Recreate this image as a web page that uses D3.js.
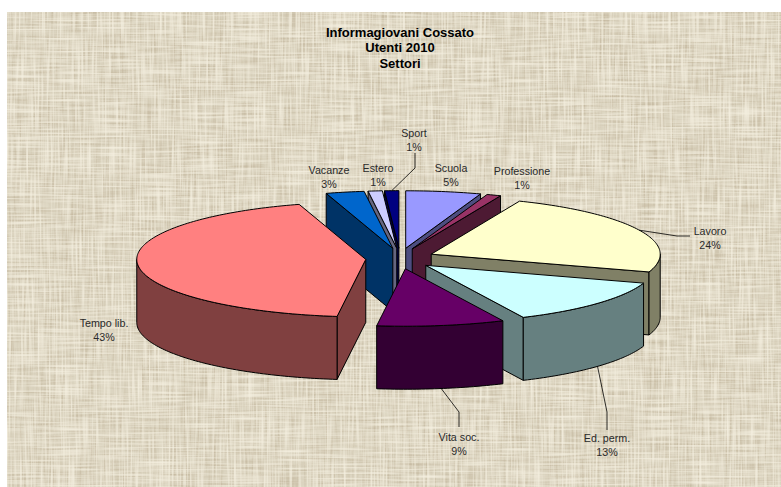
<!DOCTYPE html>
<html><head><meta charset="utf-8">
<script src="https://cdn.jsdelivr.net/npm/d3@7"></script>
<style>html,body{margin:0;padding:0;background:#fff;overflow:hidden}svg{display:block}</style>
</head><body><svg id="c" width="781" height="487"></svg>
<script>
const categories = ["Scuola","Professione","Lavoro","Ed. perm.","Vita soc.","Tempo lib.","Vacanze","Estero","Sport"];
const shares = [5.3,1.0,23.7,13,9,43.3,2.7,1,1];
const titleLines = ["Informagiovani Cossato","Utenti 2010","Settori"];
const topColors  = ["#9999FF","#993366","#FFFFCC","#CCFFFF","#660066","#FF8080","#0066CC","#CCCCFF","#000080"];
const sideColors = ["#4D4D80","#4D1A33","#808066","#668080","#330033","#804040","#003366","#666680","#000040"];

const W = 781, H = 487;
const cx = 400, cy = 258.5, R = 229, Ry = 57.5, depth = 63, explode = 0.15, explodeY = 1.2;
const x = d3.scaleLinear().domain([-1,1]).range([cx-R,cx+R]);
const y = d3.scaleLinear().domain([-1,1]).range([cy+Ry,cy-Ry]);

// where each label sits and how its leader bends (label anchor, elbow)
const labelLayout = {
  "Scuola":{x:451,y:172}, "Professione":{x:522,y:175},
  "Lavoro":{x:710,y:235,elbow:[[677,236],[690,236]]},
  "Ed. perm.":{x:607,y:442,elbow:[[607,412],[607,430]],wall:true},
  "Vita soc.":{x:459,y:441,elbow:[[459,412],[459,427]],wall:true},
  "Tempo lib.":{x:104,y:327}, "Vacanze":{x:329,y:174}, "Estero":{x:378,y:172},
  "Sport":{x:414,y:137,elbow:[[415,168],[415,153]]}
};

const svg = d3.select("#c");
const defs = svg.append("defs");
const f = defs.append("filter").attr("id","linen").attr("x",0).attr("y",0).attr("width","100%").attr("height","100%").attr("color-interpolation-filters","sRGB");
f.append("feFlood").attr("flood-color","#DCD5C1").attr("result","base");
function streaks(freq, seed, name, color, slope, icpt){
  f.append("feTurbulence").attr("type","fractalNoise").attr("baseFrequency",freq).attr("numOctaves",1).attr("seed",seed).attr("result",name+"n");
  f.append("feColorMatrix").attr("in",name+"n").attr("type","matrix")
    .attr("values",`0 0 0 0 ${color[0]} 0 0 0 0 ${color[1]} 0 0 0 0 ${color[2]} ${slope} 0 0 0 ${icpt}`).attr("result",name);
}
streaks("0.55 0.022",3,"v1",[0.96,0.94,0.88],2.2,-0.95);
streaks("0.022 0.55",8,"h1",[0.96,0.94,0.88],2.2,-0.95);
streaks("0.5 0.03",14,"v2",[0.76,0.71,0.61],1.8,-0.8);
streaks("0.03 0.5",21,"h2",[0.76,0.71,0.61],1.8,-0.8);
const m = f.append("feMerge");
["base","v2","h2","v1","h1"].forEach(n=>m.append("feMergeNode").attr("in",n));
f.append("feGaussianBlur").attr("stdDeviation",0.4);
svg.append("rect").attr("x",7).attr("y",12).attr("width",W-7).attr("height",H-12).attr("filter","url(#linen)");

const arcs = d3.pie().sort(null).value(d=>d.v).startAngle(0).endAngle(2*Math.PI)(categories.map((c,i)=>({c,v:shares[i],i})));
arcs.forEach(a=>{
  a.mid=(a.startAngle+a.endAngle)/2;
  a.ox=explode*Math.sin(a.mid);
  a.oy=explode*explodeY*Math.cos(a.mid);
});
const pt=(a,t,r,dz)=>[x(a.ox+r*Math.sin(t)), y(a.oy+r*Math.cos(t))+dz];
const line=d3.line();
const arcPts=(a,t0,t1,dz)=>{
  const n=Math.max(2,Math.ceil((t1-t0)/0.02));
  return d3.range(n+1).map(i=>pt(a,t0+(t1-t0)*i/n,1,dz));
};
const face=(g,pts,fill)=>g.append("path").attr("d",line(pts)+"Z").attr("fill",fill).attr("stroke","#000").attr("stroke-width",1).attr("stroke-linejoin","round");

const order=arcs.slice().sort((p,q)=>Math.cos(q.mid)-Math.cos(p.mid));
const plot=svg.append("g");
order.forEach(a=>{
  const g=plot.append("g"), side=sideColors[a.data.i], top=topColors[a.data.i];
  const wall=t=>face(g,[pt(a,0,0,0),pt(a,t,1,0),pt(a,t,1,depth),pt(a,0,0,depth)],side);
  if(Math.sin(a.startAngle)<0) wall(a.startAngle);
  if(Math.sin(a.endAngle)>0) wall(a.endAngle);
  const t0=Math.max(a.startAngle,Math.PI/2), t1=Math.min(a.endAngle,Math.PI*1.5);
  if(t1>t0) face(g,arcPts(a,t0,t1,0).concat(arcPts(a,t0,t1,depth).reverse()),side);
  face(g,[pt(a,0,0,0)].concat(arcPts(a,a.startAngle,a.endAngle,0)),top);
});

// leaders
arcs.forEach(a=>{
  const l=labelLayout[a.data.c];
  if(!l.elbow) return;
  const start=pt(a,a.mid,1,l.wall?depth:0);
  plot.append("path").attr("d",line([start].concat(l.elbow))).attr("fill","none").attr("stroke","#000").attr("stroke-width",0.8);
});

const font="'Liberation Sans',Arial,sans-serif";
const labels=svg.append("g").attr("font-family",font).attr("font-size",10.7).attr("fill","#2a2a2a").attr("text-anchor","middle");
arcs.forEach(a=>{
  const l=labelLayout[a.data.c];
  labels.append("text").attr("x",l.x).attr("y",l.y).text(a.data.c);
  labels.append("text").attr("x",l.x).attr("y",l.y+14).text(Math.round(a.data.v)+"%");
});
svg.append("g").attr("font-family",font).attr("font-size",13).attr("font-weight","bold").attr("fill","#000").attr("text-anchor","middle")
  .selectAll("text").data(titleLines).join("text").attr("x",400).attr("y",(d,i)=>36.5+i*15.5).text(d=>d);
</script></body></html>
